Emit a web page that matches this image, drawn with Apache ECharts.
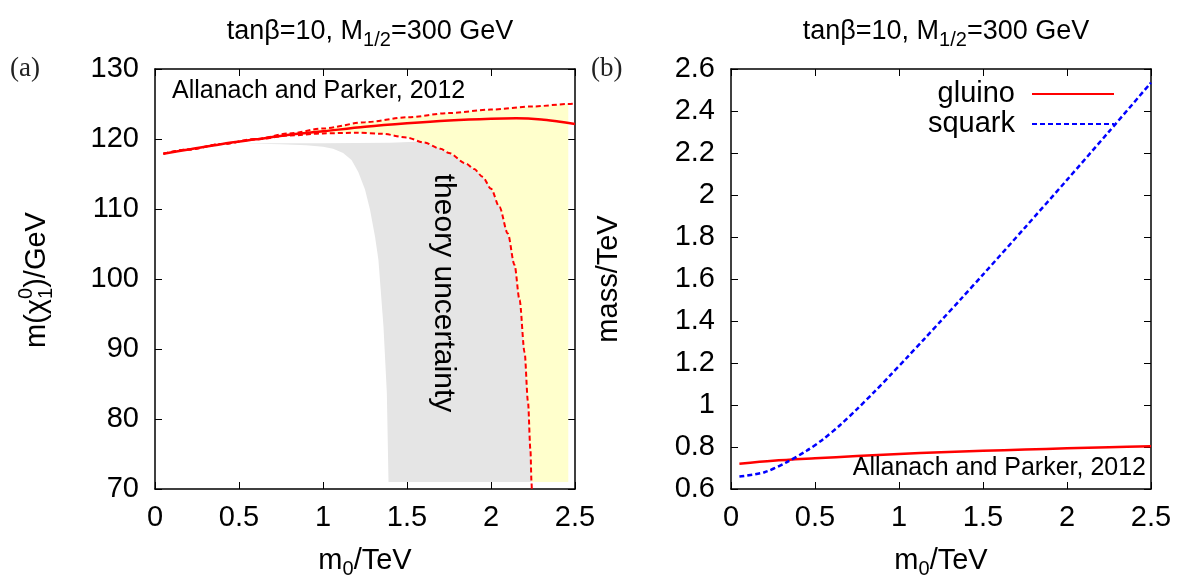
<!DOCTYPE html>
<html><head><meta charset="utf-8">
<script src="https://cdn.jsdelivr.net/npm/echarts@6/dist/echarts.min.js"></script>
<style>html,body{margin:0;padding:0;background:#fff}#c{width:1193px;height:584px}</style>
</head><body><div id="c"></div>
<script>
// ---------------- data ----------------
// Panel (a): lightest neutralino mass vs m0
const centralM0   = [0.05,0.2,0.4,0.6,0.8,1.0,1.25,1.5,1.75,2.0,2.15,2.3,2.4,2.5];
const centralMass = [117.9,118.5,119.3,119.95,120.6,121.1,121.75,122.25,122.65,122.9,122.95,122.8,122.5,122.15];
const upperM0     = [0.05,0.2,0.4,0.6,0.8,1.0,1.25,1.5,1.75,2.0,2.25,2.46,2.5];
const upperMass   = [117.9,118.5,119.3,120.0,120.8,121.5,122.4,123.1,123.7,124.2,124.65,125.0,125.05];
const lowerM0     = [0.05,0.2,0.4,0.6,0.8,1.0,1.2,1.35,1.5,1.6,1.7,1.75,1.85,1.9,1.95,2.0,2.05,2.1,2.14,2.17,2.2,2.22,2.235,2.241,2.243];
const lowerMass   = [117.9,118.5,119.3,119.95,120.5,120.8,120.9,120.75,120.2,119.5,118.6,118.0,116.5,115.7,114.6,112.9,110.3,106.5,102.0,97.0,89.5,82.5,75.5,71,70];
// grey "theory uncertainty" band: its left (white/grey) edge and its flat top
const greyEdgeM0   = [0.56,0.75,0.9,1.0,1.06,1.12,1.17,1.21,1.25,1.28,1.31,1.33,1.36,1.38,1.39];
const greyEdgeMass = [119.35,119.25,119.1,118.9,118.6,118.0,117.0,115.3,112.8,109.9,106.0,102.7,93.2,83.7,71];
const greyTopM0    = [0.56,1.0,1.4,1.55];
const greyTopMass  = [119.4,119.4,119.45,119.6];
const fillFloorMass = 71;     // shaded regions stop here
const fillRightM0   = 2.46;   // and here
const fillSplitM0   = 0.6;    // dashed curves separate here
// Panel (b): sparticle masses vs m0
const gluinoM0   = [0.05,0.25,0.5,0.75,1.0,1.25,1.5,1.75,2.0,2.25,2.5];
const gluinoMass = [0.72,0.734,0.746,0.757,0.767,0.775,0.782,0.788,0.794,0.799,0.803];
const squarkM0   = [0.05,0.2,0.33,0.45,0.55,0.65,0.75,0.85,0.95,1.05,1.15,1.25,1.37,1.5,1.75,2.0,2.25,2.5];
const squarkMass = [0.659,0.680,0.727,0.782,0.838,0.905,0.980,1.060,1.143,1.228,1.314,1.401,1.506,1.621,1.845,2.072,2.302,2.535];
const seriesNames = ['gluino','squark'];

// ---------------- build ----------------
const zip = (xs, ys) => xs.map((x, i) => [x, ys[i]]);
const central = zip(centralM0, centralMass);
const upper = zip(upperM0, upperMass);
const lower = zip(lowerM0, lowerMass);

const yellowPoly = []
  .concat(upper.filter(p => p[0] >= fillSplitM0 && p[0] <= fillRightM0))
  .concat([[fillRightM0, fillFloorMass]])
  .concat(lower.filter(p => p[0] >= fillSplitM0 && p[1] >= fillFloorMass).reverse());
const greyPoly = []
  .concat(zip(greyTopM0, greyTopMass))
  .concat(lower.filter(p => p[0] > 1.56 && p[1] >= fillFloorMass))
  .concat(zip(greyEdgeM0, greyEdgeMass).reverse());

const FONT = '"Liberation Sans", Arial, Helvetica, sans-serif';
const BLACK = '#000';

// y-axis name of panel (a) with stacked sub/superscript: m(χ_1^0)/GeV
const ctx = document.createElement('canvas').getContext('2d');
function tw(t, f) { ctx.font = f; return ctx.measureText(t).width; }
const bigF = '29px ' + FONT, smallF = '20px ' + FONT;
const wA = tw('m(χ', bigF), wS = Math.max(tw('1', smallF), tw('0', smallF)), wB = tw(')/GeV', bigF);
const x0 = -(wA + wS + wB) / 2;
const yNameA = {
  type: 'group', x: 37, y: 280, rotation: Math.PI / 2,
  children: [
    { type: 'text', x: x0, y: 0, style: { text: 'm(χ', font: bigF, fill: BLACK, textVerticalAlign: 'middle' } },
    { type: 'text', x: x0 + wA, y: 9, style: { text: '1', font: smallF, fill: BLACK, textVerticalAlign: 'middle' } },
    { type: 'text', x: x0 + wA, y: -11, style: { text: '0', font: smallF, fill: BLACK, textVerticalAlign: 'middle' } },
    { type: 'text', x: x0 + wA + wS, y: 0, style: { text: ')/GeV', font: bigF, fill: BLACK, textVerticalAlign: 'middle' } }
  ]
};

function polySeries(points, color) {
  return {
    type: 'custom', xAxisIndex: 0, yAxisIndex: 0, silent: true, z: 1,
    data: points,
    renderItem: (params, api) => {
      if (params.dataIndex !== 0) return null;
      return { type: 'polygon', shape: { points: points.map(p => api.coord(p)) }, style: { fill: color } };
    }
  };
}

function xAxes(gridIndex) {
  const common = {
    type: 'value', gridIndex, min: 0, max: 2.5, interval: 0.5,
    axisLine: { show: true, onZero: false, lineStyle: { color: BLACK, width: 1.5 } },
    axisTick: { show: true, inside: true, length: 7, lineStyle: { color: BLACK, width: 1 } },
    splitLine: { show: false }
  };
  return [
    Object.assign({}, common, {
      position: 'bottom',
      axisLabel: { show: true, color: BLACK, fontSize: 29, fontFamily: FONT, margin: 14 },
      name: 'm{s|0}/TeV', nameLocation: 'middle', nameGap: 54,
      nameTextStyle: { color: BLACK, fontSize: 29, fontFamily: FONT,
        rich: { s: { fontSize: 20, fontFamily: FONT, color: BLACK, padding: [16, 0, 0, 0] } } }
    }),
    Object.assign({}, common, { position: 'top', axisLabel: { show: false } })
  ];
}
function yAxes(gridIndex, min, max, interval, name, nameGap) {
  const common = {
    type: 'value', gridIndex, min, max, interval,
    axisLine: { show: true, onZero: false, lineStyle: { color: BLACK, width: 1.5 } },
    axisTick: { show: true, inside: true, length: 7, lineStyle: { color: BLACK, width: 1 } },
    splitLine: { show: false }
  };
  return [
    Object.assign({}, common, {
      position: 'left',
      axisLabel: { show: true, color: BLACK, fontSize: 29, fontFamily: FONT, margin: 16 },
      name, nameLocation: 'middle', nameGap, nameRotate: 90,
      nameTextStyle: { color: BLACK, fontSize: 29, fontFamily: FONT }
    }),
    Object.assign({}, common, { position: 'right', axisLabel: { show: false } })
  ];
}

const titleRich = { s: { fontSize: 20, fontFamily: FONT, color: BLACK, padding: [16, 0, 0, 0] } };
const titleText = 'tanβ=10, M{s|1/2}=300 GeV';

const option = {
  animation: false,
  backgroundColor: '#fff',
  title: [
    { text: titleText, left: 365, top: 9, textAlign: 'center',
      textStyle: { fontSize: 27, fontWeight: 'normal', color: BLACK, fontFamily: FONT, rich: titleRich } },
    { text: titleText, left: 941, top: 9, textAlign: 'center',
      textStyle: { fontSize: 27, fontWeight: 'normal', color: BLACK, fontFamily: FONT, rich: titleRich } }
  ],
  grid: [
    { left: 155, top: 69, width: 420, height: 421 },
    { left: 731, top: 69, width: 420, height: 421 }
  ],
  xAxis: xAxes(0).concat(xAxes(1)),
  yAxis: yAxes(0, 70, 130, 10, '', 100).concat(yAxes(1, 0.6, 2.6, 0.2, 'mass/TeV', 108)),
  legend: {
    data: seriesNames, orient: 'vertical', align: 'right', right: 73, top: 74,
    itemWidth: 82, itemHeight: 2, itemGap: 0,
    itemStyle: { opacity: 0 },
    textStyle: { color: BLACK, fontSize: 29, fontFamily: FONT, lineHeight: 30, padding: [0, 12, 0, 0] }
  },
  graphic: [
    yNameA,
    { type: 'text', left: 10, top: 55, style: { text: '(a)', font: '27px "Liberation Serif", "DejaVu Serif", serif', fill: '#222' } },
    { type: 'text', left: 591, top: 55, style: { text: '(b)', font: '27px "Liberation Serif", "DejaVu Serif", serif', fill: '#222' } },
    { type: 'text', left: 172, top: 79, z: 10, style: { text: 'Allanach and Parker, 2012', font: '25px ' + FONT, fill: BLACK } },
    { type: 'text', right: 47, top: 456, z: 10, style: { text: 'Allanach and Parker, 2012', font: '25px ' + FONT, fill: BLACK } },
    { type: 'text', x: 443, y: 293, rotation: -Math.PI / 2, z: 10,
      style: { text: 'theory uncertainty', font: '30px ' + FONT, fill: BLACK, textAlign: 'center', textVerticalAlign: 'middle' } }
  ],
  series: [
    polySeries(yellowPoly, '#ffffcc'),
    polySeries(greyPoly, '#e5e5e5'),
    { type: 'line', name: 'upper', xAxisIndex: 0, yAxisIndex: 0, data: upper, showSymbol: false, symbol: 'none',
      smooth: 0.3, smoothMonotone: 'x', z: 3, lineStyle: { color: '#ff0000', width: 2, type: [5, 3] } },
    { type: 'line', name: 'lower', xAxisIndex: 0, yAxisIndex: 0, data: lower, showSymbol: false, symbol: 'none',
      smooth: 0.3, smoothMonotone: 'x', z: 3, lineStyle: { color: '#ff0000', width: 2, type: [5, 3] } },
    { type: 'line', name: 'central', xAxisIndex: 0, yAxisIndex: 0, data: central, showSymbol: false, symbol: 'none',
      smooth: 0.3, z: 4, lineStyle: { color: '#ff0000', width: 2.5 } },
    { type: 'line', name: seriesNames[0], xAxisIndex: 2, yAxisIndex: 2, data: zip(gluinoM0, gluinoMass),
      showSymbol: false, symbol: 'none', smooth: 0.3, color: '#ff0000', lineStyle: { color: '#ff0000', width: 2.5 } },
    { type: 'line', name: seriesNames[1], xAxisIndex: 2, yAxisIndex: 2, data: zip(squarkM0, squarkMass),
      showSymbol: false, symbol: 'none', smooth: 0.3, color: '#0000ff', lineStyle: { color: '#0000ff', width: 2.5, type: [5, 3] } }
  ]
};
const chart = echarts.init(document.getElementById('c'), null, { renderer: 'canvas' });
chart.setOption(option);
</script>
</body></html>
